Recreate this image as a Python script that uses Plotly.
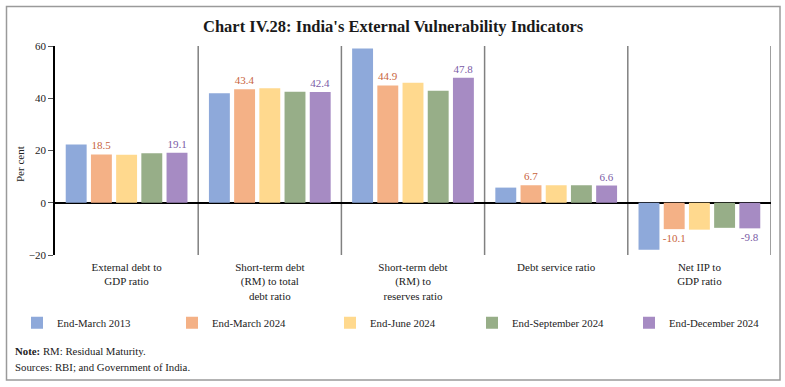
import plotly.graph_objects as go

categories = ["External debt to<br>GDP ratio",
              "Short-term debt<br>(RM) to total<br>debt ratio",
              "Short-term debt<br>(RM) to<br>reserves ratio",
              "Debt service ratio",
              "Net IIP to<br>GDP ratio"]
series_names = ["End-March 2013", "End-March 2024", "End-June 2024",
                "End-September 2024", "End-December 2024"]
end_mar_2013 = [22.3, 41.9, 59.0, 5.8, -18.0]
end_mar_2024 = [18.5, 43.4, 44.9, 6.7, -10.1]
end_jun_2024 = [18.4, 43.8, 45.9, 6.7, -10.3]
end_sep_2024 = [18.9, 42.5, 42.9, 6.7, -9.6]
end_dec_2024 = [19.1, 42.4, 47.8, 6.6, -9.8]
labelled = [False, True, False, False, True]
y_ticks = [-20, 0, 20, 40, 60]

series_values = [end_mar_2013, end_mar_2024, end_jun_2024, end_sep_2024, end_dec_2024]
colors = ["#8EA9DA", "#F4B186", "#FFD98E", "#97AE88", "#A68BC3"]
label_colors = [None, "#C8643C", None, None, "#7A5BA6"]

FONT = "Liberation Serif"
W, H = 785, 387
ML, MR, MT, MB = 55, 14, 46, 132
PW, PH = W - ML - MR, H - MT - MB

def px2x(px):
    return (px - ML) / PW

def py2y(py):
    return (H - MB - py) / PH

x_idx = list(range(len(categories)))
fig = go.Figure()
legend_left_px = [17, 172, 330, 472, 629]
for i, (name, vals) in enumerate(zip(series_names, series_values)):
    lg = "legend" if i == 0 else f"legend{i+1}"
    kw = {}
    if labelled[i]:
        kw = dict(text=[f"{v:.1f}" for v in vals], textposition="outside",
                  textfont=dict(family=FONT, size=11, color=label_colors[i]),
                  constraintext="none", cliponaxis=False)
    fig.add_trace(go.Bar(x=x_idx, y=vals, name=name, marker=dict(color=colors[i], line=dict(width=0)),
                         legend=lg, hoverinfo="skip", **kw))

layout_legends = {}
for i in range(5):
    lg = "legend" if i == 0 else f"legend{i+1}"
    layout_legends[lg] = dict(x=px2x(legend_left_px[i]), xanchor="left", y=py2y(322.7), yanchor="middle",
                              orientation="h", bgcolor="rgba(0,0,0,0)", borderwidth=0,
                              font=dict(family=FONT, size=10.8, color="#222"))

shapes = []
for xb in [0.5, 1.5, 2.5, 3.5, 4.5]:
    shapes.append(dict(type="line", xref="x", yref="paper", x0=xb, x1=xb, y0=0, y1=1,
                       line=dict(color="#808080", width=1.5), layer="below"))
# outer frame
shapes.append(dict(type="rect", xref="paper", yref="paper",
                   x0=px2x(6.5), x1=px2x(780), y0=py2y(380), y1=py2y(6.5),
                   line=dict(color="#9a9a9a", width=1.5)))

annotations = [
    dict(text="<b>Chart IV.28: India's External Vulnerability Indicators</b>", x=px2x(393), y=py2y(26.5),
         xref="paper", yref="paper", xanchor="center", yanchor="middle", showarrow=False,
         font=dict(family=FONT, size=16.5, color="#1a1a1a")),
    dict(text="Per cent", x=px2x(20), y=py2y(164), xref="paper", yref="paper", textangle=-90,
         xanchor="center", yanchor="middle", showarrow=False, font=dict(family=FONT, size=11, color="#222")),
    dict(text="<b>Note:</b> RM: Residual Maturity.", x=px2x(13), y=py2y(351), xref="paper", yref="paper",
         xanchor="left", yanchor="middle", showarrow=False, font=dict(family=FONT, size=10.8, color="#222")),
    dict(text="Sources: RBI; and Government of India.", x=px2x(13), y=py2y(366.5), xref="paper", yref="paper",
         xanchor="left", yanchor="middle", showarrow=False, font=dict(family=FONT, size=10.8, color="#222")),
]

fig.update_layout(
    width=W, height=H, margin=dict(l=ML, r=MR, t=MT, b=MB, autoexpand=False),
    paper_bgcolor="white", plot_bgcolor="white",
    barmode="group", bargap=0.12, bargroupgap=0.17,
    showlegend=True, shapes=shapes, annotations=annotations,
    font=dict(family=FONT, color="#222"),
    xaxis=dict(tickmode="array", tickvals=x_idx, ticktext=categories, range=[-0.5, 4.5],
               showline=False, ticks="", showgrid=False, zeroline=False, automargin=False,
               ticklabelstandoff=4,
               tickfont=dict(family=FONT, size=11, color="#222"), fixedrange=True),
    yaxis=dict(range=[-20, 60], tickvals=y_ticks, showgrid=False, zeroline=True, automargin=False,
               zerolinecolor="#000", zerolinewidth=2, showline=True, linecolor="#000", linewidth=1.5,
               ticks="outside", ticklen=5, tickcolor="#555", tickwidth=1,
               tickfont=dict(family=FONT, size=11, color="#222"), fixedrange=True),
    **layout_legends,
)

fig.write_html("out.html", config={"displayModeBar": False},
               post_script="document.body.style.margin='0';document.body.style.padding='0';")
